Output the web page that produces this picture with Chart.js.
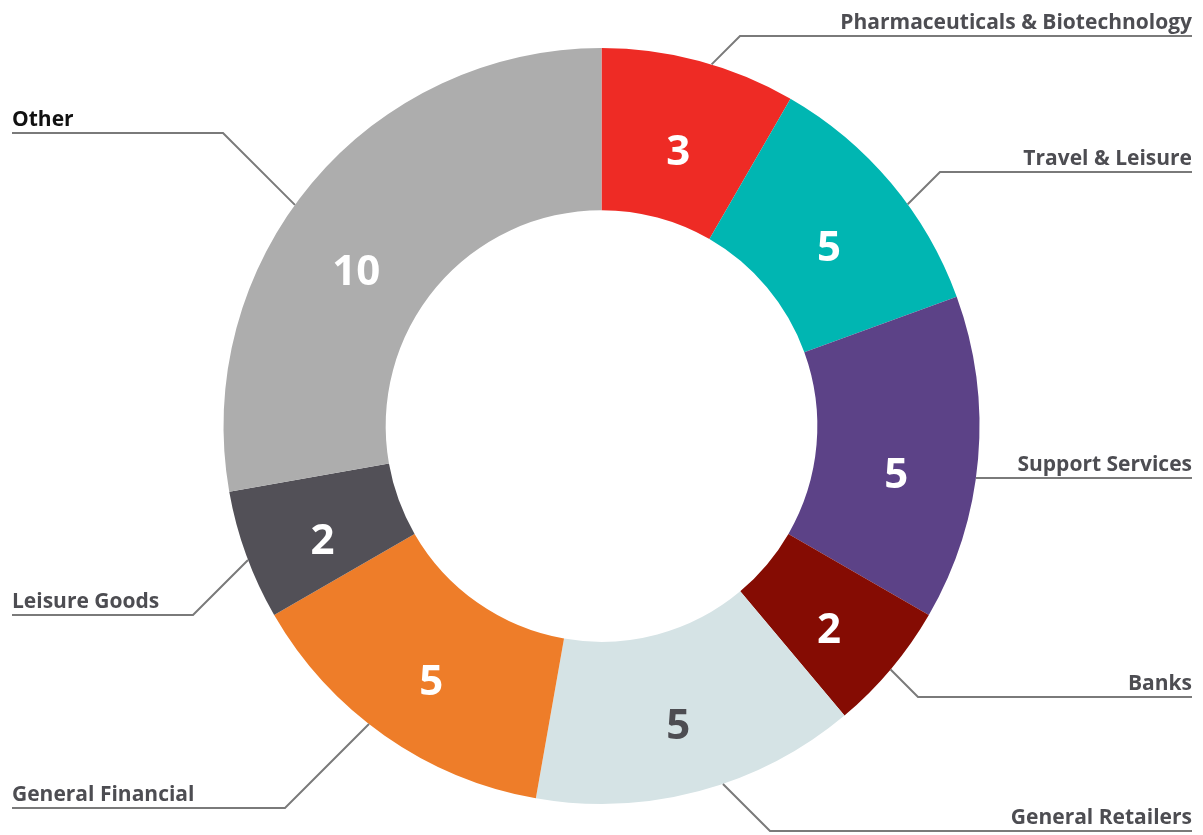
<!DOCTYPE html>
<html>
<head>
<meta charset="utf-8">
<script src="https://cdn.jsdelivr.net/npm/chart.js@4.4.1/dist/chart.umd.min.js"></script>
<style>
  html, body { margin: 0; padding: 0; background: #fff; }
  #wrap { width: 1203px; height: 835px; }
</style>
</head>
<body>
<div id="wrap"><canvas id="sectorChart" width="1203" height="835"></canvas></div>
<script>
// --- podaci ---
const sectors = ['Pharmaceuticals & Biotechnology', 'Travel & Leisure', 'Support Services', 'Banks',
                 'General Retailers', 'General Financial', 'Leisure Goods', 'Other'];
// velicina isecka (procitano iz uglova na slici)
const shares = [3, 4, 5, 2, 5, 5, 2, 10];
// brojevi ispisani u iseccima
const counts = [3, 5, 5, 2, 5, 5, 2, 10];
const colors = ['#ee2b25', '#00b6b2', '#5c4287', '#850c03', '#d5e3e5', '#ee7d29', '#525057', '#adadad'];
const countColors = ['#fff', '#fff', '#fff', '#fff', '#4d4d52', '#fff', '#fff', '#fff'];

// raspored natpisa: y linije, x lakta (null = ravna linija), pomak broja u stepenima
const labelLayout = [
    { y: 36, ex: 740, side: 'right', shift: 0 },
    { y: 172, ex: 940, side: 'right', shift: 0 },
    { y: 478, ex: null, side: 'right', shift: 2 },
    { y: 697, ex: 918, side: 'right', shift: 0 },
    { y: 831, ex: 770, side: 'right', shift: 0 },
    { y: 808, ex: 285, side: 'left', shift: 0 },
    { y: 615, ex: 193, side: 'left', shift: 0 },
    { y: 133, ex: 223, side: 'left', shift: -5.7 }
];

const FONT = '"Open Sans", Lato, sans-serif';

document.addEventListener("DOMContentLoaded", () => {
    const ctxSectors = document.getElementById('sectorChart').getContext('2d');

    new Chart(ctxSectors, {
        type: 'doughnut',
        data: {
            labels: sectors,
            datasets: [{
                data: shares,
                backgroundColor: colors,
                borderWidth: 0
            }]
        },
        options: {
            cutout: '57.1%',
            responsive: false,
            maintainAspectRatio: false,
            animation: false,
            layout: { padding: { top: 48, bottom: 31, left: 0, right: 0 } },
            plugins: {
                legend: { display: false },
                tooltip: { enabled: false }
            }
        },
        plugins: [{
            id: 'leaderLabels',
            afterDatasetsDraw(chart) {
                const { ctx } = chart;
                const arcs = chart.getDatasetMeta(0).data;
                ctx.save();

                arcs.forEach((arc, i) => {
                    const p = arc.getProps(['x', 'y', 'startAngle', 'endAngle', 'innerRadius', 'outerRadius'], true);
                    const cx = p.x, cy = p.y, R = p.outerRadius;
                    const lay = labelLayout[i];
                    const endX = lay.side === 'right' ? 1192 : 12;

                    // lakat i pravac prema krugu
                    let ex, ey = lay.y, dx, dy;
                    if (lay.ex === null) {
                        ex = endX;
                        dx = Math.sign(cx - ex); dy = 0;
                    } else {
                        ex = lay.ex;
                        dx = Math.sign(cx - ex) / Math.SQRT2;
                        dy = Math.sign(cy - ey) / Math.SQRT2;
                    }
                    const fx = ex - cx, fy = ey - cy;
                    const b = fx * dx + fy * dy;
                    const c = fx * fx + fy * fy - R * R;
                    const t = -b - Math.sqrt(Math.max(b * b - c, 0));
                    const sx = ex + dx * t, sy = ey + dy * t;

                    ctx.strokeStyle = '#7a7a7a';
                    ctx.lineWidth = 2;
                    ctx.beginPath();
                    ctx.moveTo(sx, sy);
                    ctx.lineTo(ex, ey);
                    ctx.lineTo(endX, ey);
                    ctx.stroke();

                    ctx.font = 'bold 21px ' + FONT;
                    ctx.fillStyle = i === 7 ? '#111' : '#4d4d52';
                    ctx.textBaseline = 'alphabetic';
                    ctx.textAlign = lay.side === 'right' ? 'right' : 'left';
                    ctx.fillText(sectors[i], endX, ey - 7);

                    // broj u isecku
                    const a = (p.startAngle + p.endAngle) / 2 + lay.shift * Math.PI / 180;
                    const r = (p.innerRadius + p.outerRadius) / 2;
                    ctx.font = 'bold 42px ' + FONT;
                    ctx.fillStyle = countColors[i];
                    ctx.textAlign = 'center';
                    ctx.textBaseline = 'alphabetic';
                    ctx.fillText(counts[i], cx + Math.cos(a) * r, cy + Math.sin(a) * r + 26);
                });

                ctx.restore();
            }
        }]
    });
});
</script>
</body>
</html>
